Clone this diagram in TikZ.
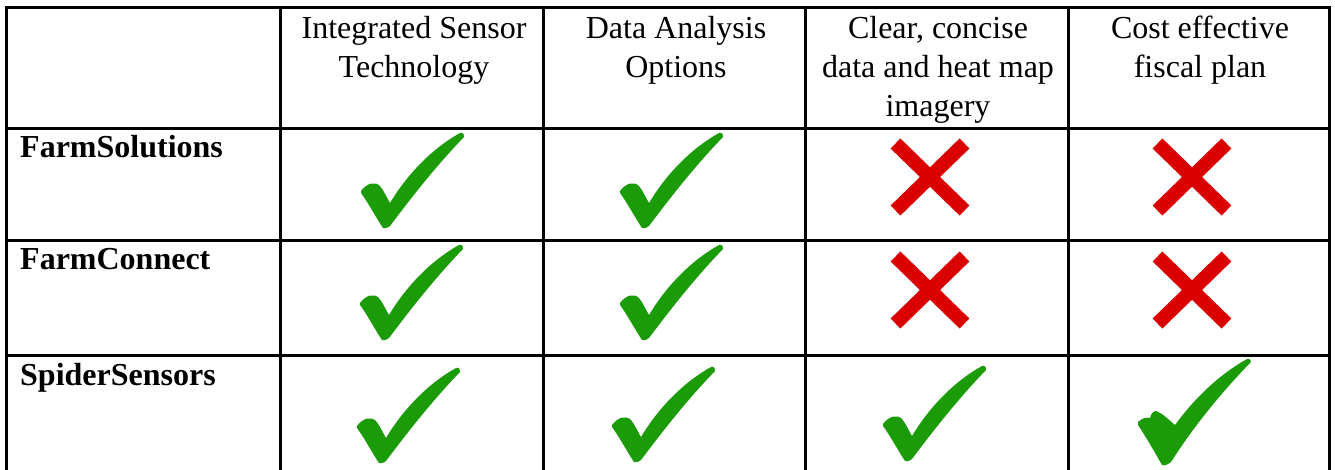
\documentclass[tikz,border=0pt]{standalone}
\usepackage{fontspec}
\setmainfont{Liberation Serif}
\definecolor{checkgreen}{RGB}{28,155,8}
\definecolor{crossred}{RGB}{218,0,0}
\tikzset{
  gridline/.style={line width=3pt, black, line cap=rect},
  headtext/.style={anchor=north, align=center, inner sep=0pt, font=\fontsize{32}{39}\selectfont},
  rowtext/.style={anchor=base west, inner sep=0pt, font=\fontsize{32}{39}\selectfont\bfseries},
  checkmark/.pic={
    \fill[checkgreen] (0,0) .. controls (-8,-12) and (-14,-24) .. (-22,-35) -- (-22,-37)
      .. controls (-16,-45) and (-8,-47) .. (-3,-42)
      .. controls (1,-37) and (4,-30) .. (7,-25)
      .. controls (25,-55) and (50,-80) .. (77,-95)
      .. controls (80,-96) and (82,-93) .. (81,-91)
      .. controls (53,-62) and (28,-30) .. (7,-2)
      .. controls (4,0) and (2,1) .. cycle;
  },
  bigcheck/.pic={
    \fill[checkgreen] (0,0) .. controls (-8,-14) and (-16,-28) .. (-24,-40) -- (-24,-43)
      .. controls (-20,-47) and (-15,-48) .. (-12,-47)
      .. controls (-11,-51) and (-9,-54) .. (-6,-54)
      .. controls (0,-52) and (6,-46) .. (13,-40)
      .. controls (35,-70) and (60,-92) .. (85,-106)
      .. controls (88,-107) and (90,-104) .. (88,-102)
      .. controls (57,-70) and (30,-36) .. (9,-3)
      .. controls (5,0) and (2,1) .. cycle;
  },
  crossmark/.pic={
    \draw[crossred, line width=14pt, line cap=butt] (-34.5,-33.5) -- (34.5,33.5);
    \draw[crossred, line width=14pt, line cap=butt] (34.5,-33.5) -- (-34.5,33.5);
  },
}
\begin{document}
\begin{tikzpicture}[x=1pt, y=-1pt]
\useasboundingbox (0,0) rectangle (1335,469);
% grid
\draw[gridline] (6,7) -- (1329,7);
\draw[gridline] (6,128) -- (1329,128);
\draw[gridline] (6,240) -- (1329,240);
\draw[gridline] (6,355) -- (1329,355);
\foreach \x in {6,280,543,805,1068,1329} {
  \draw[gridline] (\x,7) -- (\x,469);
}
% header
\node[headtext] (h1) at (414,16) {Integrated Sensor\\Technology};
\node[headtext] (h2) at (676,16) {Data Analysis\\Options};
\node[headtext] (h3) at (938,16) {Clear, concise\\data and heat map\\imagery};
\node[headtext] (h4) at (1200,16) {Cost effective\\fiscal plan};
% row labels
\node[rowtext] (r1) at (20,157) {FarmSolutions};
\node[rowtext] (r2) at (20,269) {FarmConnect};
\node[rowtext] (r3) at (20,385) {SpiderSensors};
% marks
\pic at (383,228) {checkmark};
\pic at (642,228) {checkmark};
\pic at (930,177) {crossmark};
\pic at (1192,177) {crossmark};
\pic at (382,340) {checkmark};
\pic at (642,340) {checkmark};
\pic at (930,290) {crossmark};
\pic at (1192,290) {crossmark};
\pic at (379,463) {checkmark};
\pic at (634,462) {checkmark};
\pic at (905,461) {checkmark};
\pic at (1162,465) {bigcheck};
\end{tikzpicture}
\end{document}
